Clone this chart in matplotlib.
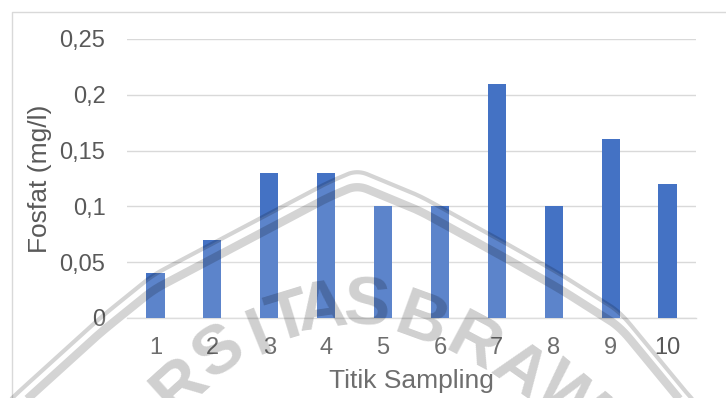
import matplotlib
matplotlib.use("Agg")
import matplotlib.pyplot as plt
import numpy as np

plt.rcParams["font.family"] = ["Liberation Sans", "DejaVu Sans"]

# Phosphate concentration per sampling point
titik = ["1", "2", "3", "4", "5", "6", "7", "8", "9", "10"]
fosfat = [0.04, 0.07, 0.13, 0.13, 0.10, 0.10, 0.21, 0.10, 0.16, 0.12]
y_ticks = [0, 0.05, 0.10, 0.15, 0.20, 0.25]
y_tick_labels = ["0", "0,05", "0,1", "0,15", "0,2", "0,25"]

BAR = "#4472C4"
GRID = "#D9D9D9"
TEXT = "#595959"

W, H = 726, 398

fig = plt.figure(figsize=(W / 100, H / 100), dpi=100)
fig.patch.set_facecolor("white")
ax = fig.add_axes([127 / W, 1 - 318 / H, 569 / W, 279 / H])

pos = np.arange(1, len(titik) + 1)
ax.bar(pos, fosfat, width=0.32, color=BAR, zorder=3)
ax.set_xlim(0.5, len(titik) + 0.5)
ax.set_ylim(0, 0.25)
ax.set_xticks(pos)
ax.set_xticklabels(titik)
ax.set_yticks(y_ticks)
ax.set_yticklabels(y_tick_labels)
ax.grid(True, axis="y", color=GRID, linewidth=1.0, zorder=0)
for s in ("top", "right", "left"):
    ax.spines[s].set_visible(False)
ax.spines["bottom"].set_color(GRID)
ax.spines["bottom"].set_linewidth(1.0)
ax.spines["bottom"].set_zorder(1)
ax.tick_params(axis="both", length=0, colors=TEXT, labelsize=17)
ax.tick_params(axis="x", pad=13.5)
ax.tick_params(axis="y", pad=15.5)

ax.set_xlabel("Titik Sampling", color=TEXT, fontsize=19, va="top")
ax.xaxis.set_label_coords(0.5, -0.183)
ax.set_ylabel("Fosfat (mg/l)", color=TEXT, fontsize=19)
ax.yaxis.set_label_coords(-0.132, 0.5)

# overlay layer in pixel coordinates: chart frame and the faint logo stamp
wm = fig.add_axes([0, 0, 1, 1], zorder=5)
wm.set_xlim(0, W)
wm.set_ylim(H, 0)
wm.axis("off")
wm.patch.set_alpha(0)

wm.plot([12, 12, W + 5], [H + 5, 12, 12], color=GRID, linewidth=1.0)

arc_x = [-40, 13, 100, 153, 240, 327, 357, 420, 500, 560, 620, 690, 760]
arc_y = [450, 397, 318, 275, 229, 183, 170, 196, 240, 274, 312, 397, 470]
xs = np.arange(-80, W + 80, 1.0)
ys = np.interp(xs, arc_x, arc_y)
k = np.ones(21) / 21
ys = np.convolve(ys, k, mode="same")
keep = (xs > -40) & (xs < W + 40)
xs, ys = xs[keep], ys[keep]

wm.fill_between(xs, ys, H + 50, color="white", alpha=0.13, linewidth=0)
wm.plot(xs, ys, color="black", alpha=0.17, linewidth=3.0,
        solid_capstyle="butt")
wm.plot(xs, ys + 15, color="black", alpha=0.17, linewidth=6.0,
        solid_capstyle="butt")

letters = ["R", "S", "I", "T", "A", "S", "B", "R", "A", "W"]
let_x = [180, 220, 260, 289, 322, 367, 421, 473, 519, 569]
let_y = [386, 353, 335, 320, 310, 307, 323, 345, 372, 398]
let_rot = [42, 34, 22, 17, 8, -3, -20, -28, -35, -40]
for ch, lx, ly, rot in zip(letters, let_x, let_y, let_rot):
    wm.text(lx, ly, ch, fontsize=50, fontweight="bold", color="black",
            alpha=0.19, ha="center", va="center", rotation=rot,
            rotation_mode="anchor")

fig.savefig("out.png", dpi=100)
